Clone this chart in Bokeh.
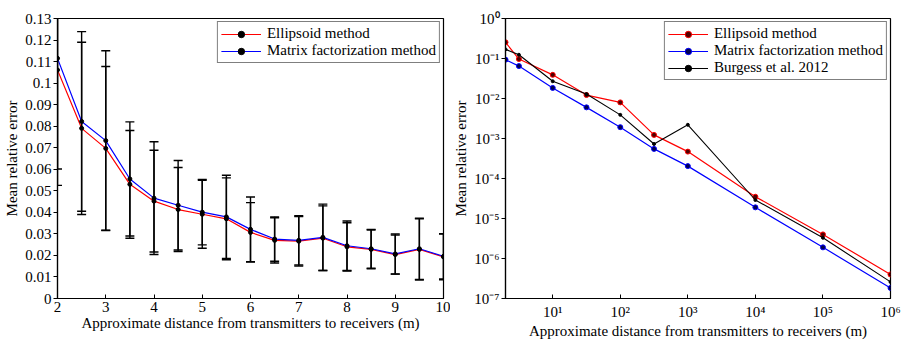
from bokeh.plotting import figure
from bokeh.layouts import row
from bokeh.models import FixedTicker, CustomJSTickFormatter, Legend, LegendItem
from bokeh.embed import file_html
from bokeh.resources import INLINE

# ---------------- data: left panel ----------------
dist = [2, 2.5, 3, 3.5, 4, 4.5, 5, 5.5, 6, 6.5, 7, 7.5, 8, 8.5, 9, 9.5, 10]
ell_err = [0.1061, 0.079, 0.0697, 0.053, 0.0452, 0.0413, 0.0391, 0.037, 0.0307,
           0.027, 0.0266, 0.028, 0.024, 0.0228, 0.0204, 0.0228, 0.0193]
mf_err = [0.1115, 0.0822, 0.0733, 0.0555, 0.0466, 0.0433, 0.0401, 0.0379, 0.0321,
          0.0276, 0.027, 0.0284, 0.0245, 0.0231, 0.0207, 0.0231, 0.0196]
ell_std = [0.046, 0.040, 0.038, 0.025, 0.0236, 0.0195, 0.0158, 0.019, 0.0138,
           0.0105, 0.0115, 0.015, 0.0112, 0.009, 0.0091, 0.0142, 0.0106]
mf_std = [0.059, 0.0417, 0.0417, 0.0265, 0.0262, 0.0208, 0.0152, 0.0193, 0.015,
          0.0103, 0.0114, 0.0154, 0.0115, 0.009, 0.0093, 0.0142, 0.0105]
left_xticks = [2, 3, 4, 5, 6, 7, 8, 9, 10]
left_yticks = [0, 0.01, 0.02, 0.03, 0.04, 0.05, 0.06, 0.07, 0.08, 0.09, 0.10, 0.11, 0.12, 0.13]

# ---------------- data: right panel ----------------
rdist = [2, 3.16, 10, 31.6, 100, 316, 1000, 1e4, 1e5, 1e6]
r_ell = [0.254, 0.097, 0.039, 0.0122, 0.008, 0.00123, 4.7e-4, 3.5e-5, 4.0e-6, 4.0e-7]
r_mf = [0.0935, 0.0646, 0.0184, 0.0060, 0.00192, 5.5e-4, 2.04e-4, 1.9e-5, 1.9e-6, 1.84e-7]
r_bur = [0.169, 0.124, 0.027, 0.0129, 0.0039, 7.3e-4, 2.2e-3, 2.9e-5, 3.3e-6, 2.6e-7]
right_xticks = [10, 100, 1000, 1e4, 1e5, 1e6]
right_yticks = [1e-7, 1e-6, 1e-5, 1e-4, 1e-3, 1e-2, 1e-1, 1]

labels = ["Ellipsoid method", "Matrix factorization method", "Burgess et al. 2012"]
xlabel = "Approximate distance from transmitters to receivers (m)"
ylabel = "Mean relative error"

FONT = "Liberation Serif"
FS = "15px"


def style_axes(p, x_standoff, x_label_standoff):
    for ax in (p.xaxis[0], p.yaxis[0]):
        ax.axis_label_text_font = FONT
        ax.axis_label_text_font_size = FS
        ax.axis_label_text_font_style = "normal"
        ax.axis_label_text_color = "black"
        ax.major_label_text_font = FONT
        ax.major_label_text_font_size = FS
        ax.major_label_text_color = "black"
        ax.axis_line_color = "black"
        ax.axis_line_width = 1.2
        ax.major_tick_line_color = "black"
        ax.minor_tick_line_color = None
    p.xaxis.major_tick_in = 4
    p.xaxis.major_tick_out = 0
    p.yaxis.major_tick_in = 0
    p.yaxis.major_tick_out = 4
    p.xaxis.major_label_standoff = x_standoff
    p.xaxis.axis_label_standoff = x_label_standoff
    p.yaxis.major_label_standoff = 2
    p.yaxis.axis_label_standoff = 2
    p.grid.visible = False
    p.outline_line_color = "black"
    p.outline_line_width = 1.2
    p.background_fill_color = "white"
    p.border_fill_color = "white"


H = 341

# ---------------- left panel ----------------
p1 = figure(width=450, height=H, x_range=(2, 10), y_range=(0, 0.13),
            output_backend="svg", toolbar_location=None, title=None,
            min_border_left=57, min_border_right=7, min_border_top=18, min_border_bottom=38)
p1.xaxis.axis_label = xlabel
p1.yaxis.axis_label = ylabel
style_axes(p1, 3, 0)
p1.xaxis.ticker = FixedTicker(ticks=left_xticks)
p1.yaxis.ticker = FixedTicker(ticks=left_yticks)
p1.yaxis.formatter = CustomJSTickFormatter(code="return String(Number(tick.toFixed(2)));")

l_ell = p1.line(dist, ell_err, line_color="red", line_width=1.2)
l_mf = p1.line(dist, mf_err, line_color="blue", line_width=1.2)
for vals, std in ((ell_err, ell_std), (mf_err, mf_std)):
    lo = [v - s for v, s in zip(vals, std)]
    hi = [v + s for v, s in zip(vals, std)]
    p1.segment(x0=dist, y0=lo, x1=dist, y1=hi, line_color="black", line_width=1.4)
    p1.scatter(dist, lo, marker="dash", size=9, line_color="black", line_width=1.4)
    p1.scatter(dist, hi, marker="dash", size=9, line_color="black", line_width=1.4)
m_ell = p1.scatter(dist, ell_err, size=4, fill_color="black", line_color="black")
m_mf = p1.scatter(dist, mf_err, size=4, fill_color="black", line_color="black")

leg1 = Legend(items=[LegendItem(label=labels[0], renderers=[l_ell, m_ell]),
                     LegendItem(label=labels[1], renderers=[l_mf, m_mf])],
              location="top_right", margin=3, padding=3, spacing=0,
              glyph_width=40, glyph_height=16, label_height=16, label_standoff=6,
              label_text_font=FONT, label_text_font_size=FS, label_text_color="black",
              border_line_color="black", border_line_width=1.2,
              background_fill_color="white", background_fill_alpha=1.0)
p1.add_layout(leg1)

# ---------------- right panel ----------------
p2 = figure(width=451, height=H, x_axis_type="log", y_axis_type="log",
            x_range=(2, 1e6), y_range=(1e-7, 1),
            output_backend="svg", toolbar_location=None, title=None,
            min_border_left=55, min_border_right=11, min_border_top=13, min_border_bottom=42)
p2.xaxis.axis_label = xlabel
p2.yaxis.axis_label = ylabel
style_axes(p2, 5, 0)
p2.xaxis.ticker = FixedTicker(ticks=right_xticks)
p2.yaxis.ticker = FixedTicker(ticks=right_yticks)
sup_code = """
const sup = {"0":"\u2070","1":"\u00b9","2":"\u00b2","3":"\u00b3","4":"\u2074","5":"\u2075",
             "6":"\u2076","7":"\u2077","8":"\u2078","9":"\u2079","-":"\u207b"};
const e = Math.round(Math.log10(tick));
return "10" + String(e).split("").map(c => sup[c]).join("");
"""
p2.xaxis.formatter = CustomJSTickFormatter(code=sup_code)
p2.yaxis.formatter = CustomJSTickFormatter(code=sup_code)

rl_ell = p2.line(rdist, r_ell, line_color="red", line_width=1.2)
rm_ell = p2.scatter(rdist, r_ell, size=5, fill_color="#500000", line_color="red", line_width=1)
rl_mf = p2.line(rdist, r_mf, line_color="blue", line_width=1.2)
rm_mf = p2.scatter(rdist, r_mf, size=5, fill_color="#000050", line_color="blue", line_width=1)
rl_bur = p2.line(rdist, r_bur, line_color="black", line_width=1.1)
rm_bur = p2.scatter(rdist, r_bur, size=3, fill_color="black", line_color="black")

leg2 = Legend(items=[LegendItem(label=labels[0], renderers=[rl_ell, rm_ell]),
                     LegendItem(label=labels[1], renderers=[rl_mf, rm_mf]),
                     LegendItem(label=labels[2], renderers=[rl_bur, rm_bur])],
              location="top_right", margin=3, padding=3, spacing=0,
              glyph_width=40, glyph_height=16, label_height=16, label_standoff=6,
              label_text_font=FONT, label_text_font_size=FS, label_text_color="black",
              border_line_color="black", border_line_width=1.2,
              background_fill_color="white", background_fill_alpha=1.0)
p2.add_layout(leg2)

layout = row(p1, p2)
open("out.html", "w").write(file_html(layout, INLINE))
